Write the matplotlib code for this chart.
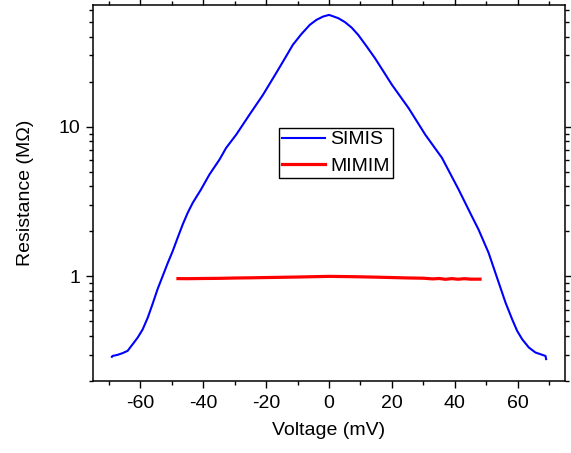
import numpy as np
import matplotlib.pyplot as plt
from matplotlib.ticker import MultipleLocator, LogLocator, FixedLocator, NullFormatter, FixedFormatter

plt.rcParams['font.family'] = ['Liberation Sans', 'DejaVu Sans']
plt.rcParams['axes.unicode_minus'] = False

# SIMIS curve (mV, MOhm)
simis_v = [-69.0, -68.8, -67.2, -65.6, -64.0, -62.4, -60.8, -59.2, -57.6, -56.1,
           -54.5, -52.9, -51.3, -49.7, -48.1, -46.5, -44.9, -43.3, -40.7, -38.0,
           -34.8, -32.7, -29.5, -25.3, -21.0, -16.8, -14.1, -11.5, -8.8, -6.1,
           -4.0, -1.9, 0.0, 0.9, 3.0, 5.1, 7.2, 9.3, 12.0, 14.6,
           17.3, 20.0, 25.3, 30.6, 35.9, 41.2, 45.4, 47.5, 50.7, 53.4,
           56.1, 58.2, 59.8, 61.4, 63.5, 65.6, 67.2, 68.8, 69.0]
simis_r = [0.29, 0.294, 0.299, 0.307, 0.318, 0.352, 0.390, 0.443, 0.530, 0.651,
           0.819, 1.0, 1.22, 1.47, 1.81, 2.22, 2.66, 3.10, 3.80, 4.79,
           6.03, 7.21, 8.84, 12.0, 16.3, 22.8, 28.4, 35.2, 41.5, 47.9,
           51.7, 54.4, 55.8, 55.0, 53.0, 49.9, 45.9, 41.0, 34.3, 28.7,
           23.4, 19.05, 13.3, 8.84, 6.19, 3.80, 2.52, 2.06, 1.44, 0.98,
           0.668, 0.517, 0.432, 0.38, 0.335, 0.31, 0.302, 0.294, 0.28]

# MIMIM curve
mimim_v = [-48, -45, -40, -35, -30, -25, -20, -15, -10, -5, 0, 5, 10, 15, 20,
           25, 30, 33, 35, 37, 39, 41, 43, 45, 48]
mimim_r = [0.966, 0.965, 0.968, 0.970, 0.975, 0.978, 0.982, 0.986, 0.99, 0.995,
           1.0, 0.997, 0.993, 0.988, 0.982, 0.976, 0.972, 0.962, 0.968, 0.956,
           0.966, 0.957, 0.965, 0.958, 0.958]

fig = plt.figure(figsize=(5.71, 4.53), dpi=100)
ax = fig.add_axes([93/571, 1-381/453, 472/571, 376/453])

ax.plot(simis_v, simis_r, color='#0000ff', lw=1.5, label='SIMIS')
ax.plot(mimim_v, mimim_r, color='#ff0000', lw=2.3, label='MIMIM')

ax.set_yscale('log')
ax.set_xlim(-75, 75)
ax.set_ylim(0.2, 65)

ax.xaxis.set_major_locator(MultipleLocator(20))
ax.xaxis.set_minor_locator(MultipleLocator(10))
ax.yaxis.set_major_locator(FixedLocator([1, 10]))
ax.yaxis.set_major_formatter(FixedFormatter(['1', '10']))
ax.yaxis.set_minor_locator(LogLocator(base=10, subs=np.arange(2, 10)))
ax.yaxis.set_minor_formatter(NullFormatter())

ax.tick_params(which='both', direction='out', width=1.0, labelsize=14, colors='black')
ax.tick_params(which='major', length=5)
ax.tick_params(which='minor', length=3)
ax.tick_params(axis='x', which='both', top=True, pad=5)
ax.tick_params(axis='y', which='both', right=True, pad=4)
for sp in ax.spines.values():
    sp.set_linewidth(1.1)

ax.set_xlabel('Voltage (mV)', fontsize=14, labelpad=7)
ax.set_ylabel('Resistance (M\u03a9)', fontsize=14, labelpad=18)

leg = ax.legend(loc='upper left', bbox_to_anchor=(0.394, 0.673), borderaxespad=0,
                fontsize=14, fancybox=False, edgecolor='black', framealpha=1,
                handlelength=2.2, handletextpad=0.3, labelspacing=0.45,
                borderpad=0.15)
leg.get_frame().set_linewidth(1.0)

fig.savefig('out.png', dpi=100)
